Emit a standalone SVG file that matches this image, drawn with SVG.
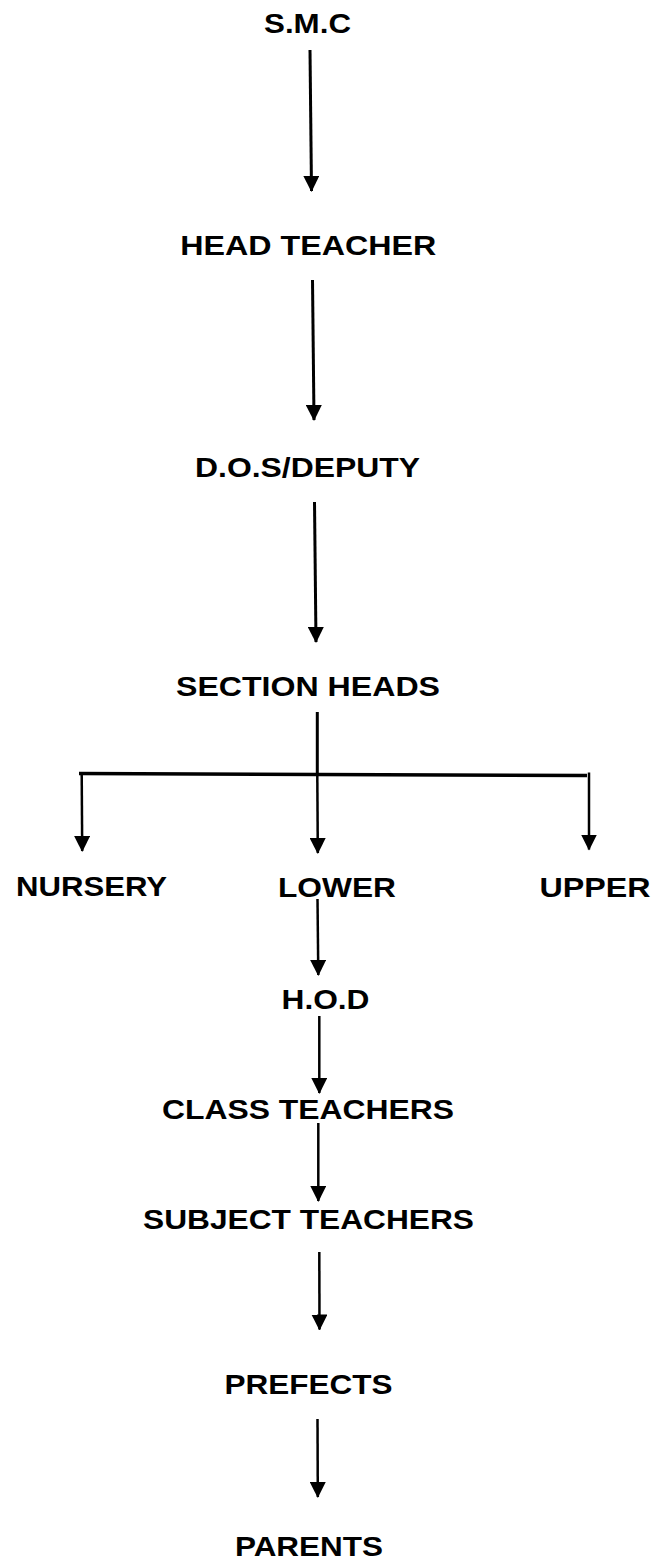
<svg xmlns="http://www.w3.org/2000/svg" width="653" height="1566" viewBox="0 0 653 1566">
<style>
text{font-family:"Liberation Sans",Arial,sans-serif;font-weight:bold;font-size:28px;fill:#000;text-anchor:middle}
.c{stroke:#000;fill:none;stroke-width:2.5}
.t{stroke-width:3}
.b{stroke-width:3.5}
</style>
<defs>
<marker id="ah" markerUnits="userSpaceOnUse" markerWidth="16" markerHeight="16" refX="15" refY="8" orient="auto" viewBox="0 0 16 16">
<path d="M0,0 L16,8 L0,16 z" fill="#000"/>
</marker>
</defs>
<rect width="653" height="1566" fill="#fff"/>
<g id="connectors">
<line class="c t" x1="310" y1="50" x2="311.5" y2="191" marker-end="url(#ah)"/>
<line class="c t" x1="312.5" y1="280" x2="314" y2="420" marker-end="url(#ah)"/>
<line class="c t" x1="314.5" y1="502" x2="316" y2="642" marker-end="url(#ah)"/>
<line class="c t" x1="317.3" y1="712" x2="317.3" y2="775"/>
<line class="c b" x1="79" y1="773.5" x2="587" y2="775.5"/>
<line class="c" x1="317.3" y1="775" x2="317.8" y2="853" marker-end="url(#ah)"/>
<line class="c" x1="81.7" y1="773" x2="82.2" y2="851" marker-end="url(#ah)"/>
<line class="c" x1="589" y1="772.5" x2="589" y2="849.5" marker-end="url(#ah)"/>
<line class="c" x1="317.5" y1="899" x2="318.3" y2="975" marker-end="url(#ah)"/>
<line class="c" x1="319.3" y1="1016" x2="319.3" y2="1093" marker-end="url(#ah)"/>
<line class="c" x1="318.3" y1="1123" x2="318.3" y2="1201" marker-end="url(#ah)"/>
<line class="c" x1="319.3" y1="1252" x2="319.5" y2="1329.5" marker-end="url(#ah)"/>
<line class="c" x1="317.5" y1="1419" x2="317.8" y2="1497" marker-end="url(#ah)"/>
</g>
<g id="smc"><text x="307.5" y="33" textLength="87" lengthAdjust="spacingAndGlyphs">S.M.C</text></g>
<g id="head-teacher"><text x="308.3" y="254.5" textLength="256" lengthAdjust="spacingAndGlyphs">HEAD TEACHER</text></g>
<g id="dos-deputy"><text x="307.5" y="476.5" textLength="225" lengthAdjust="spacingAndGlyphs">D.O.S/DEPUTY</text></g>
<g id="section-heads"><text x="308" y="695.5" textLength="264" lengthAdjust="spacingAndGlyphs">SECTION HEADS</text></g>
<g id="nursery"><text x="91.5" y="896" textLength="151" lengthAdjust="spacingAndGlyphs">NURSERY</text></g>
<g id="lower"><text x="337" y="896.5" textLength="118" lengthAdjust="spacingAndGlyphs">LOWER</text></g>
<g id="upper"><text x="595" y="896.5" textLength="111" lengthAdjust="spacingAndGlyphs">UPPER</text></g>
<g id="hod"><text x="325.5" y="1008.5" textLength="88" lengthAdjust="spacingAndGlyphs">H.O.D</text></g>
<g id="class-teachers"><text x="308" y="1118.5" textLength="292" lengthAdjust="spacingAndGlyphs">CLASS TEACHERS</text></g>
<g id="subject-teachers"><text x="308.5" y="1228.5" textLength="331" lengthAdjust="spacingAndGlyphs">SUBJECT TEACHERS</text></g>
<g id="prefects"><text x="308.5" y="1393.5" textLength="168" lengthAdjust="spacingAndGlyphs">PREFECTS</text></g>
<g id="parents"><text x="309" y="1555.5" textLength="148" lengthAdjust="spacingAndGlyphs">PARENTS</text></g>
</svg>
